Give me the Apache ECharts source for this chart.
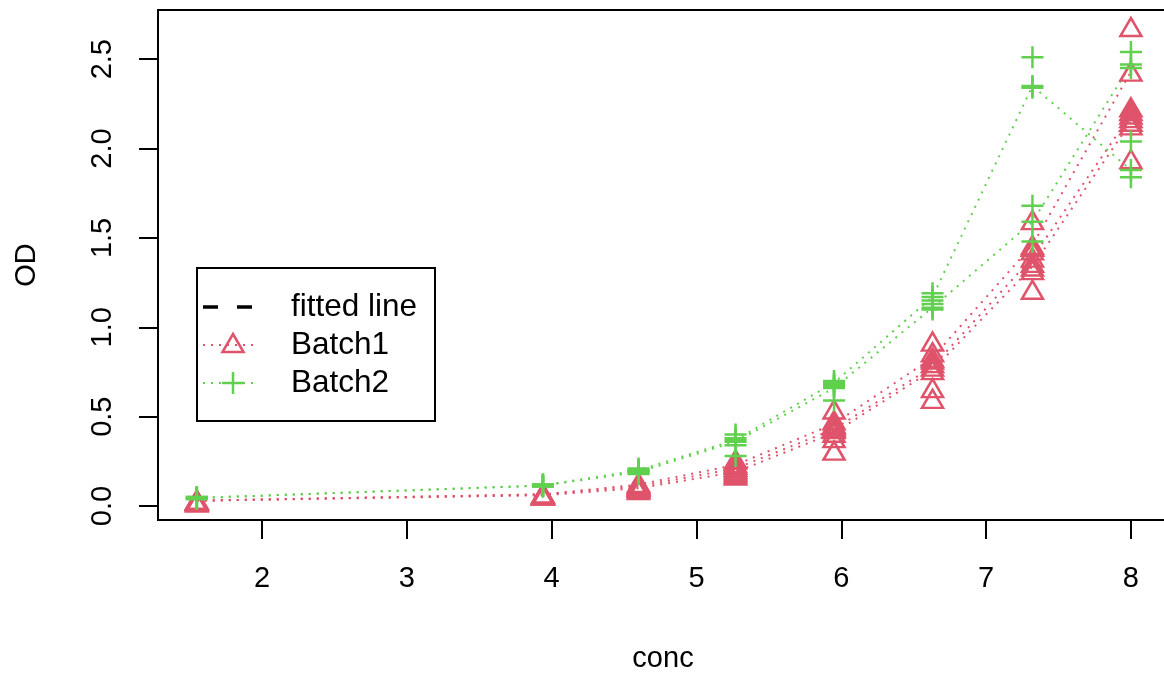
<!DOCTYPE html>
<html><head><meta charset="utf-8">
<script src="https://cdn.jsdelivr.net/npm/echarts@6/dist/echarts.min.js"></script>
<style>html,body{margin:0;padding:0;background:#fff}#c{width:1164px;height:677px}</style>
</head><body><div id="c"></div>
<script>
// ---- data ----
const conc = [1.55, 3.94, 4.60, 5.27, 5.95, 6.63, 7.32, 8.00];
const xTicks = [2, 3, 4, 5, 6, 7, 8];
const yTicks = [0, 0.5, 1.0, 1.5, 2.0, 2.5];
const legendNames = ['fitted line', 'Batch1', 'Batch2'];

// replicate OD readings per concentration, one array per run
const batch1Run1 = [[0.035,0.030,0.025],[0.070,0.065,0.060],[0.13,0.12,0.11],[0.26,0.23,0.22],[0.54,0.46,0.45],[0.92,0.83,0.80],[1.60,1.46,1.43],[2.68,2.43,2.17]];
const batch1Run2 = [[0.030,0.030,0.020],[0.070,0.065,0.060],[0.12,0.11,0.09],[0.24,0.21,0.17],[0.48,0.43,0.31],[0.86,0.78,0.60],[1.45,1.39,1.21],[2.23,2.19,1.94]];
const batch1Run3 = [[0.035,0.030,0.025],[0.065,0.060,0.060],[0.11,0.10,0.10],[0.20,0.19,0.18],[0.44,0.41,0.38],[0.82,0.76,0.66],[1.36,1.34,1.32],[2.21,2.15,2.13]];
const batch2Run1 = [[0.050,0.045,0.040],[0.120,0.115,0.110],[0.21,0.20,0.19],[0.40,0.37,0.34],[0.70,0.69,0.67],[1.19,1.17,1.15],[2.51,2.35,2.34],[2.04,1.88,1.84]];
const batch2Run2 = [[0.050,0.045,0.040],[0.120,0.115,0.110],[0.20,0.19,0.18],[0.38,0.36,0.28],[0.68,0.66,0.59],[1.13,1.11,1.10],[1.68,1.59,1.48],[2.54,2.47,2.45]];

const batch1Runs = [batch1Run1, batch1Run2, batch1Run3];
const batch2Runs = [batch2Run1, batch2Run2];

// ---- styling ----
const RED = '#DF536B', GREEN = '#61D04F';
const FONT = '"Liberation Sans", Arial, Helvetica, sans-serif';
const FS = 29, LFS = 31.5;
const PLUS = 'path://M0,5L10,5M5,0L5,10';

function median(a) { const s = a.slice().sort((p, q) => p - q); return s[Math.floor(s.length / 2)]; }

const series = [];
function addRun(run, color, symbol, size) {
  series.push({
    type: 'line', data: conc.map((x, i) => [x, median(run[i])]),
    symbol: 'none', silent: true, animation: false, z: 2,
    lineStyle: { color: color, width: 2, type: [2, 6], opacity: 1 }
  });
  const pts = [];
  conc.forEach((x, i) => run[i].forEach(v => pts.push([x, v])));
  series.push({
    type: 'scatter', data: pts, symbol: symbol, symbolSize: size,
    silent: true, animation: false, z: 3,
    itemStyle: { color: 'rgba(0,0,0,0)', borderColor: color, borderWidth: 2.5, opacity: 1 }
  });
}
batch1Runs.forEach(r => addRun(r, RED, 'triangle', [21, 18]));
batch2Runs.forEach(r => addRun(r, GREEN, PLUS, [22, 22]));

// legend (R-style box legend)
const LX = 197, LY = 268, LW = 238, LH = 153;
const rowY = [307, 345, 383];
const txtStyle = (t, y) => ({ type: 'text', x: 291, y: y, style: { text: t, font: LFS + 'px ' + FONT, fill: '#000', verticalAlign: 'middle', align: 'left' } });
const legend = [
  { type: 'rect', shape: { x: LX, y: LY, width: LW, height: LH }, style: { fill: '#fff', stroke: '#000', lineWidth: 2 } },
  { type: 'line', shape: { x1: 203, y1: rowY[0], x2: 252, y2: rowY[0] }, style: { stroke: '#000', lineWidth: 3.5, lineDash: [15, 19] } },
  txtStyle(legendNames[0], rowY[0]),
  { type: 'line', shape: { x1: 203, y1: rowY[1], x2: 258, y2: rowY[1] }, style: { stroke: RED, lineWidth: 2, lineDash: [2, 6] } },
  { type: 'polygon', shape: { points: [[233, rowY[1] - 11], [243.5, rowY[1] + 7], [222.5, rowY[1] + 7]] }, style: { fill: 'none', stroke: RED, lineWidth: 2.5 } },
  txtStyle(legendNames[1], rowY[1]),
  { type: 'line', shape: { x1: 203, y1: rowY[2], x2: 258, y2: rowY[2] }, style: { stroke: GREEN, lineWidth: 2, lineDash: [2, 6] } },
  { type: 'line', shape: { x1: 222, y1: rowY[2], x2: 244, y2: rowY[2] }, style: { stroke: GREEN, lineWidth: 2.5 } },
  { type: 'line', shape: { x1: 233, y1: rowY[2] - 11, x2: 233, y2: rowY[2] + 11 }, style: { stroke: GREEN, lineWidth: 2.5 } },
  txtStyle(legendNames[2], rowY[2])
];

const chart = echarts.init(document.getElementById('c'), null, { renderer: 'canvas' });
chart.setOption({
  animation: false,
  backgroundColor: '#fff',
  textStyle: { fontFamily: FONT },
  grid: { left: 158, right: -4, top: 10, bottom: 157, outerBoundsMode: 'none', containLabel: false,
          show: true, borderColor: '#000', borderWidth: 2, backgroundColor: 'rgba(0,0,0,0)' },
  xAxis: {
    type: 'value', min: 1.282, max: 8.256,
    name: 'conc', nameLocation: 'middle', nameGap: 124,
    nameTextStyle: { fontSize: FS, color: '#000', fontFamily: FONT },
    axisLine: { show: true, onZero: false, lineStyle: { color: '#000', width: 2 } },
    splitLine: { show: false },
    axisTick: { show: true, length: 19, inside: false, customValues: xTicks, lineStyle: { color: '#000', width: 2 } },
    axisLabel: { show: true, customValues: xTicks, margin: 44, fontSize: FS, color: '#000', fontFamily: FONT, formatter: v => String(v) }
  },
  yAxis: {
    type: 'value', min: -0.078, max: 2.775,
    name: 'OD', nameLocation: 'middle', nameGap: 117,
    nameTextStyle: { fontSize: FS, color: '#000', fontFamily: FONT },
    axisLine: { show: true, onZero: false, lineStyle: { color: '#000', width: 2 } },
    splitLine: { show: false },
    axisTick: { show: true, length: 19, inside: false, customValues: yTicks, lineStyle: { color: '#000', width: 2 } },
    axisLabel: { show: true, customValues: yTicks, rotate: 90, margin: 41, fontSize: FS, color: '#000', fontFamily: FONT, formatter: v => v.toFixed(1) }
  },
  series: series,
  graphic: { elements: legend }
});
</script></body></html>
